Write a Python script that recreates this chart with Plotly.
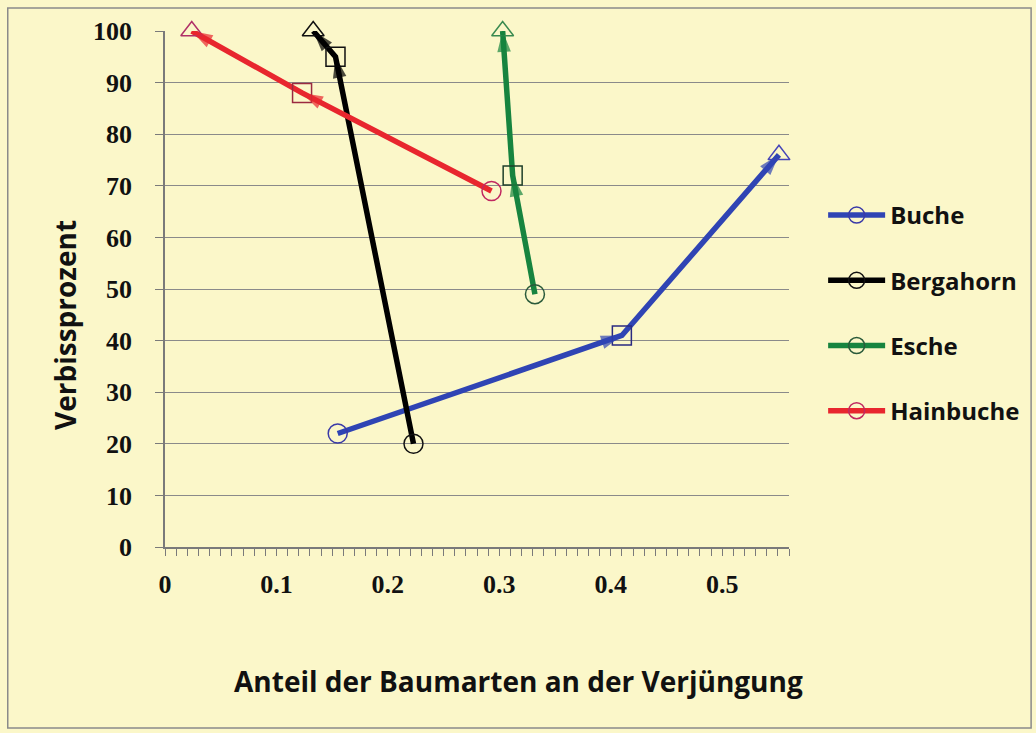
import plotly.graph_objects as go

# ---- data ----
series = ["Buche", "Bergahorn", "Esche", "Hainbuche"]
buche_x = [0.155, 0.41, 0.551]
buche_y = [22, 41, 76]
bergahorn_x = [0.223, 0.153, 0.133]
bergahorn_y = [20, 95, 100]
esche_x = [0.332, 0.312, 0.303]
esche_y = [49, 72, 100]
hainbuche_x = [0.293, 0.123, 0.024]
hainbuche_y = [69, 88, 100]

y_ticks = [0, 10, 20, 30, 40, 50, 60, 70, 80, 90, 100]
x_ticks = [0, 0.1, 0.2, 0.3, 0.4, 0.5]
x_labels = ["0", "0.1", "0.2", "0.3", "0.4", "0.5"]

# ---- styles ----
BG = "#FBF7C9"
line_colors = ["#2F44B4", "#000000", "#17843F", "#E8262E"]
marker_colors = [
    ["#3A3AA8", "#2A2A80", "#4444B8"],
    ["#111111", "#111111", "#111111"],
    ["#2A5A3A", "#1F3F2A", "#3A8A50"],
    ["#C02860", "#9A2A40", "#B03068"],
]
symbols = ["circle-open", "square-open", "triangle-up-open"]

xs = [buche_x, bergahorn_x, esche_x, hainbuche_x]
ys = [buche_y, bergahorn_y, esche_y, hainbuche_y]

fig = go.Figure()
for i, name in enumerate(series):
    fig.add_trace(go.Scatter(
        x=xs[i], y=ys[i], name=name, mode="lines+markers",
        legendgroup=name, cliponaxis=False,
        line=dict(color=line_colors[i], width=5.5),
        marker=dict(symbol=symbols, size=19, color=marker_colors[i],
                    line=dict(width=1.5, color=marker_colors[i])),
    ))
for i, name in enumerate(series):
    fig.add_trace(go.Scatter(
        x=xs[i], y=ys[i], mode="markers", showlegend=False, legendgroup=name,
        hoverinfo="skip", cliponaxis=False,
        marker=dict(symbol="arrow", angleref="previous", size=[0, 22, 22],
                    color=line_colors[i], line=dict(width=0)),
    ))

axis_font = dict(family="Liberation Serif", size=26, color="#111111", weight="bold")
title_font = dict(family="Open Sans", size=28, color="#111111", weight="bold")

fig.update_layout(
    width=1036, height=733,
    margin=dict(l=165, r=246, t=31, b=186),
    paper_bgcolor=BG, plot_bgcolor=BG,
    showlegend=True,
    legend=dict(x=1.053, y=0.686, xanchor="left", yanchor="top",
                bgcolor="rgba(0,0,0,0)",
                font=dict(family="Open Sans", size=24, color="#111111", weight="bold"),
                tracegroupgap=31, itemwidth=57),
    xaxis=dict(range=[0, 0.56], tickvals=x_ticks, ticktext=x_labels,
               showgrid=False, zeroline=False, showline=True,
               linecolor="#7A7A7A", linewidth=1.5,
               ticks="outside", ticklen=7, tickcolor="#7A7A7A",
               tickfont=axis_font, ticklabelstandoff=6,
               minor=dict(dtick=0.01, ticks="outside", ticklen=7,
                          tickcolor="#7A7A7A", showgrid=False)),
    yaxis=dict(range=[0, 100], tickvals=y_ticks,
               showgrid=True, gridcolor="#8A8A8A", gridwidth=1.2,
               zeroline=False, showline=True, linecolor="#7A7A7A", linewidth=1.5,
               ticks="outside", ticklen=8, tickcolor="#7A7A7A",
               tickfont=axis_font, ticklabelstandoff=18),
    annotations=[
        dict(text="Verbissprozent", xref="paper", yref="paper",
             x=-0.1605, y=0.43, textangle=-90, showarrow=False,
             font=title_font, xanchor="center", yanchor="middle"),
        dict(text="Anteil der Baumarten an der Verjüngung", xref="paper", yref="paper",
             x=0.566, y=-0.2597, showarrow=False,
             font=title_font, xanchor="center", yanchor="middle"),
    ],
    shapes=[
        dict(type="rect", xref="paper", yref="paper",
             x0=-0.2520, x1=1.3880, y0=-0.3508, y1=1.0446,
             line=dict(color="#8A8A8A", width=1.5), fillcolor="rgba(0,0,0,0)", layer="below"),
    ],
)

fig.write_html("out.html", config={"displayModeBar": False},
               post_script="document.body.style.margin='0';document.body.style.overflow='hidden';")
